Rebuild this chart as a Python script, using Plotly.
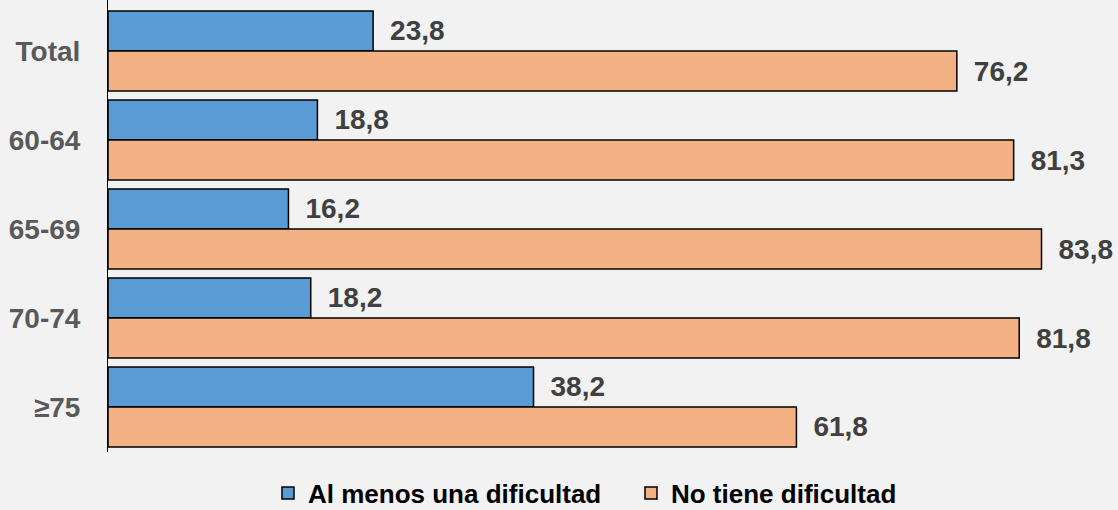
import plotly.graph_objects as go

categorias = ["Total", "60-64", "65-69", "70-74", "≥75"]
al_menos_una = [23.8, 18.8, 16.2, 18.2, 38.2]
no_tiene = [76.2, 81.3, 83.8, 81.8, 61.8]

fuente = "Liberation Sans, Arial, sans-serif"
etiqueta = dict(family=fuente, size=28, color="#404040", weight="bold")

fig = go.Figure()

fig.add_trace(go.Bar(
    y=categorias,
    x=al_menos_una,
    orientation="h",
    name="Al menos una dificultad",
    marker=dict(color="#5B9BD5", line=dict(color="#000000", width=1.5)),
    texttemplate="\u2002%{x:.1f}",
    textposition="outside",
    textfont=etiqueta,
    cliponaxis=False,
))

fig.add_trace(go.Bar(
    y=categorias,
    x=no_tiene,
    orientation="h",
    name="No tiene dificultad",
    marker=dict(color="#F4B183", line=dict(color="#000000", width=1.5)),
    texttemplate="\u2002%{x:.1f}",
    textposition="outside",
    textfont=etiqueta,
    cliponaxis=False,
))

fig.update_layout(
    width=1118,
    height=510,
    barmode="group",
    bargap=0.1,
    bargroupgap=0,
    separators=",.",
    paper_bgcolor="#F2F2F2",
    plot_bgcolor="#F2F2F2",
    margin=dict(l=108, r=10, t=0, b=58, autoexpand=False),
    font=dict(family=fuente, color="#404040"),
    legend=dict(
        orientation="h",
        xref="container",
        yref="container",
        x=0.2397,
        xanchor="left",
        y=0.033,
        yanchor="middle",
        entrywidth=318,
        font=dict(family=fuente, size=26, color="#000000", weight="bold"),
        bgcolor="rgba(0,0,0,0)",
    ),
    xaxis=dict(
        range=[0, 89.77],
        showgrid=False,
        showticklabels=False,
        zeroline=False,
        showline=False,
    ),
    yaxis=dict(
        range=[4.506, -0.573],
        showgrid=False,
        showline=True,
        linecolor="#000000",
        linewidth=1,
        ticks="",
        ticklabelstandoff=21,
        tickfont=dict(family=fuente, size=28, color="#595959", weight="bold"),
    ),
)

# quitar el margen del body para que el fondo gris llegue a los bordes
fig.write_html(
    "out.html",
    config={"displayModeBar": False},
    post_script="document.body.style.margin='0';document.body.style.background='#F2F2F2';",
)
